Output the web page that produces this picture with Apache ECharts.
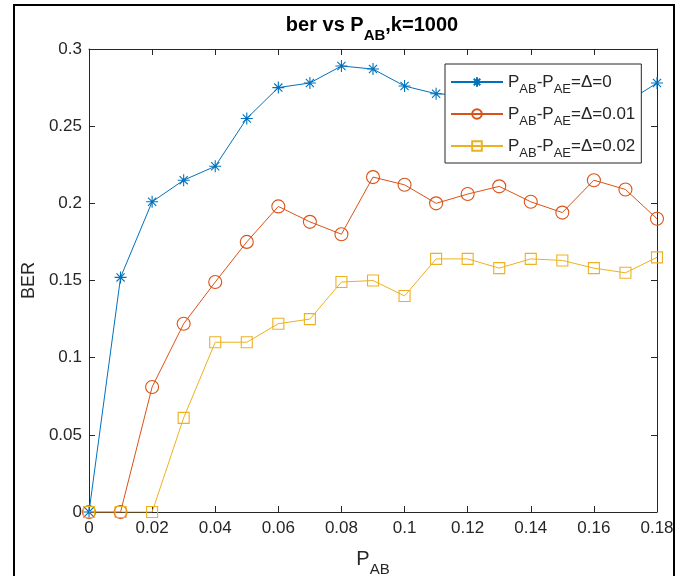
<!DOCTYPE html>
<html>
<head>
<meta charset="utf-8">
<script src="https://cdn.jsdelivr.net/npm/echarts@6/dist/echarts.min.js"></script>
<style>
  html, body { margin: 0; padding: 0; background: #fff; }
  #chart { width: 683px; height: 576px; }
</style>
</head>
<body>
<div id="chart"></div>
<script>
// valores
const pab = [0, 0.01, 0.02, 0.03, 0.04, 0.05, 0.06, 0.07, 0.08, 0.09, 0.1, 0.11, 0.12, 0.13, 0.14, 0.15, 0.16, 0.17, 0.18];
const berD0 = [0, 0.152, 0.201, 0.215, 0.224, 0.255, 0.275, 0.278, 0.289, 0.287, 0.276, 0.271, 0.270, 0.266, 0.262, 0.259, 0.262, 0.265, 0.278];
const berD1 = [0, 0, 0.081, 0.122, 0.149, 0.175, 0.198, 0.188, 0.180, 0.217, 0.212, 0.200, 0.206, 0.211, 0.201, 0.194, 0.215, 0.209, 0.190];
const berD2 = [0, 0, 0, 0.061, 0.110, 0.110, 0.122, 0.125, 0.149, 0.150, 0.140, 0.164, 0.164, 0.158, 0.164, 0.163, 0.158, 0.155, 0.165];
const deltas = ['0', '0.01', '0.02'];
const yTicks = [0, 0.05, 0.1, 0.15, 0.2, 0.25, 0.3];

const colores = ['#0072BD', '#D95319', '#EDB120'];
const simbolos = [
  'path://M5,0L5,10M0,5L10,5M1.6,1.6L8.4,8.4M1.6,8.4L8.4,1.6',
  'circle',
  'rect'
];
const tamanos = [12, 13, 11];
const fuente = 'Liberation Sans, Arial, sans-serif';
const gris = '#262626';

function puntos(arr) {
  return pab.map(function (x, i) { return [x, arr[i]]; });
}

const nombres = deltas.map(function (d) { return 'PAB-PAE=\u0394=' + d; });
const series = [berD0, berD1, berD2].map(function (arr, i) {
  return {
    name: nombres[i],
    type: 'line',
    data: puntos(arr),
    color: colores[i],
    symbol: simbolos[i],
    symbolSize: tamanos[i],
    showAllSymbol: true,
    lineStyle: { color: colores[i], width: 1 },
    itemStyle: { color: 'rgba(0,0,0,0)', borderColor: colores[i], borderWidth: 1.1 },
    emphasis: { disabled: true },
    animation: false,
    z: 2 + i
  };
});

const chart = echarts.init(document.getElementById('chart'));

// subindices: fuente menor y bajada con padding superior
const nor = { fontFamily: fuente, fontSize: 17, color: gris, lineHeight: 20 };
const sub = { fontFamily: fuente, fontSize: 13, color: gris, lineHeight: 20, padding: [15, 0, 0, 0] };

// ejes con marcas hacia adentro (estilo caja)
const linea = { show: true, onZero: false, lineStyle: { color: gris, width: 1 } };
const marcas = { show: true, inside: true, length: 6, lineStyle: { color: gris } };

chart.setOption({
  backgroundColor: '#fff',
  animation: false,
  title: {
    text: '{b|ber vs P}{bs|AB}{b|,k=1000}',
    left: 367,
    textAlign: 'center',
    top: 9,
    textStyle: {
      rich: {
        b: { fontFamily: fuente, fontSize: 20, fontWeight: 'bold', color: '#000', lineHeight: 22 },
        bs: { fontFamily: fuente, fontSize: 15, fontWeight: 'bold', color: '#000', lineHeight: 22, padding: [21, 0, 0, 0] }
      }
    }
  },
  grid: { left: 89, right: 26, top: 49, bottom: 64, containLabel: false, outerBoundsMode: 'none' },
  legend: {
    orient: 'vertical',
    left: 445,
    top: 64,
    padding: [4, 6, 3, 5],
    itemGap: 4,
    itemWidth: 52,
    itemHeight: 12,
    backgroundColor: '#fff',
    borderColor: gris,
    borderWidth: 1,
    borderRadius: 0,
    data: nombres,
    formatter: function (name) {
      const d = deltas[nombres.indexOf(name)];
      return '{n|P}{s|AB}{n|-P}{s|AE}{n|=\u0394=' + d + '}';
    },
    textStyle: { rich: { n: nor, s: sub } }
  },
  xAxis: [{
    type: 'value',
    min: 0, max: 0.18, interval: 0.02,
    name: '{n|P}{s|AB}',
    nameLocation: 'middle',
    nameGap: 16,
    nameTextStyle: {
      rich: {
        n: { fontFamily: fuente, fontSize: 20, color: gris, lineHeight: 22 },
        s: { fontFamily: fuente, fontSize: 15, color: gris, lineHeight: 22, padding: [20, 0, 0, 0] }
      }
    },
    axisLine: linea,
    axisTick: marcas,
    axisLabel: { fontFamily: fuente, fontSize: 17, color: gris, margin: 8 },
    splitLine: { show: false }
  }, {
    type: 'value', position: 'top',
    min: 0, max: 0.18, interval: 0.02,
    axisLine: linea,
    axisTick: marcas,
    axisLabel: { show: false },
    splitLine: { show: false }
  }],
  yAxis: [{
    type: 'value',
    min: yTicks[0], max: yTicks[yTicks.length - 1], interval: 0.05,
    name: 'BER',
    nameLocation: 'middle',
    nameGap: 47,
    nameTextStyle: { fontFamily: fuente, fontSize: 18, color: gris },
    axisLine: linea,
    axisTick: marcas,
    axisLabel: { fontFamily: fuente, fontSize: 17, color: gris, margin: 7 },
    splitLine: { show: false }
  }, {
    type: 'value', position: 'right',
    min: yTicks[0], max: yTicks[yTicks.length - 1], interval: 0.05,
    axisLine: linea,
    axisTick: marcas,
    axisLabel: { show: false },
    splitLine: { show: false }
  }],
  graphic: [{
    type: 'rect',
    shape: { x: 14, y: 5, width: 660, height: 620 },
    style: { fill: 'none', stroke: '#000', lineWidth: 2 },
    silent: true
  }],
  series: series
});
</script>
</body>
</html>
